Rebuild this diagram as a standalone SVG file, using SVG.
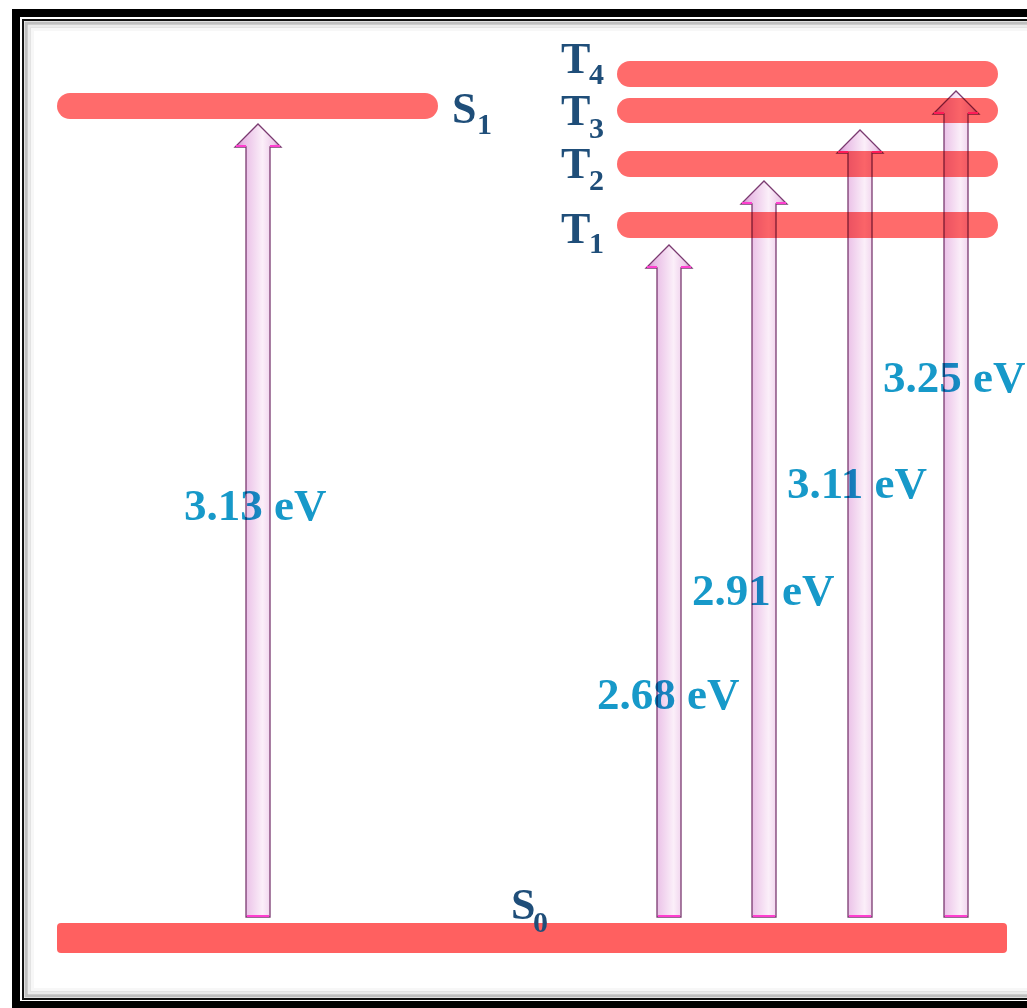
<svg xmlns="http://www.w3.org/2000/svg" width="1027" height="1008" viewBox="0 0 1027 1008">
  <style>
    .bar { fill: #ff6b6b; }
    .lvl { font-family: "Liberation Serif", "Times New Roman", serif; font-weight: bold; fill: #1f4e79; }
    .big { font-size: 44px; }
    .sub { font-size: 30px; }
    .ev { font-family: "Liberation Serif", "Times New Roman", serif; font-weight: bold; font-size: 45px; fill: #1799c9; }
    .arrow { fill: url(#shaftGrad); stroke: #7a3a70; stroke-width: 1.3; }
    .bevel { stroke: #ff3fd0; stroke-width: 2; fill: none; }
    #connectors { mix-blend-mode: multiply; }
  </style>
  <defs>
    <linearGradient id="shaftGrad" x1="0" y1="0" x2="1" y2="0">
      <stop offset="0" stop-color="#c98cc4"/>
      <stop offset="0.2" stop-color="#e9bde6"/>
      <stop offset="0.6" stop-color="#fbeff9"/>
      <stop offset="0.85" stop-color="#ecc9e9"/>
      <stop offset="1" stop-color="#b27aae"/>
    </linearGradient>
  </defs>

  <!-- page -->
  <rect x="0" y="0" width="1027" height="1008" fill="#ffffff"/>

  <!-- double frame with inner shadow -->
  <g id="frame" fill="none">
    <rect x="16" y="13" width="1030" height="992" stroke="#000" stroke-width="8"/>
    <rect x="23" y="20" width="1020" height="979" stroke="#111" stroke-width="2"/>
    <rect x="26" y="23" width="1014" height="973" stroke="#000" stroke-opacity="0.25" stroke-width="3"/>
    <rect x="29" y="26" width="1008" height="967" stroke="#000" stroke-opacity="0.08" stroke-width="4"/>
    <rect x="32" y="29" width="1002" height="961" stroke="#000" stroke-opacity="0.03" stroke-width="4"/>
  </g>

  <!-- energy levels -->
  <g id="S0">
    <rect x="57" y="923" width="950" height="30" rx="4" fill="#ff6060"/>
    <text class="lvl big" x="511" y="919">S</text>
    <text class="lvl sub" x="533" y="932">0</text>
  </g>
  <g id="S1">
    <rect class="bar" x="57" y="93" width="381" height="26" rx="13"/>
    <text class="lvl big" x="452" y="123">S</text>
    <text class="lvl sub" x="477" y="134">1</text>
  </g>
  <g id="T1">
    <rect class="bar" x="617" y="212" width="381" height="26" rx="13"/>
    <text class="lvl big" x="561" y="243">T</text>
    <text class="lvl sub" x="589" y="253">1</text>
  </g>
  <g id="T2">
    <rect class="bar" x="617" y="151" width="381" height="26" rx="13"/>
    <text class="lvl big" x="561" y="178">T</text>
    <text class="lvl sub" x="589" y="190">2</text>
  </g>
  <g id="T3">
    <rect class="bar" x="617" y="98" width="381" height="25" rx="12.5"/>
    <text class="lvl big" x="561" y="125">T</text>
    <text class="lvl sub" x="589" y="138">3</text>
  </g>
  <g id="T4">
    <rect class="bar" x="617" y="61" width="381" height="26" rx="13"/>
    <text class="lvl big" x="561" y="73">T</text>
    <text class="lvl sub" x="589" y="84">4</text>
  </g>

  <!-- transition energies -->
  <g id="energies">
    <text class="ev" x="184" y="520">3.13 eV</text>
    <text class="ev" x="597" y="709">2.68 eV</text>
    <text class="ev" x="692" y="605">2.91 eV</text>
    <text class="ev" x="787" y="498">3.11 eV</text>
    <text class="ev" x="883" y="392">3.25 eV</text>
  </g>

  <!-- excitation arrows (multiplied over levels and labels) -->
  <g id="connectors">
    <g id="arrow-S0-S1">
      <path class="arrow" d="M246,917 V147 H235 L258,124 L281,147 H270 V917 Z"/>
      <path class="bevel" d="M236,146 H246 M270,146 H280 M247,916 H269"/>
    </g>
    <g id="arrow-S0-T1">
      <path class="arrow" d="M657,917 V268 H646 L669,245 L692,268 H681 V917 Z"/>
      <path class="bevel" d="M647,267 H657 M681,267 H691 M658,916 H680"/>
    </g>
    <g id="arrow-S0-T2">
      <path class="arrow" d="M752,917 V204 H741 L764,181 L787,204 H776 V917 Z"/>
      <path class="bevel" d="M742,203 H752 M776,203 H786 M753,916 H775"/>
    </g>
    <g id="arrow-S0-T3">
      <path class="arrow" d="M848,917 V153 H837 L860,130 L883,153 H872 V917 Z"/>
      <path class="bevel" d="M838,152 H848 M872,152 H882 M849,916 H871"/>
    </g>
    <g id="arrow-S0-T4">
      <path class="arrow" d="M944,917 V114 H933 L956,91 L979,114 H968 V917 Z"/>
      <path class="bevel" d="M934,113 H944 M968,113 H978 M945,916 H967"/>
    </g>
  </g>
</svg>
